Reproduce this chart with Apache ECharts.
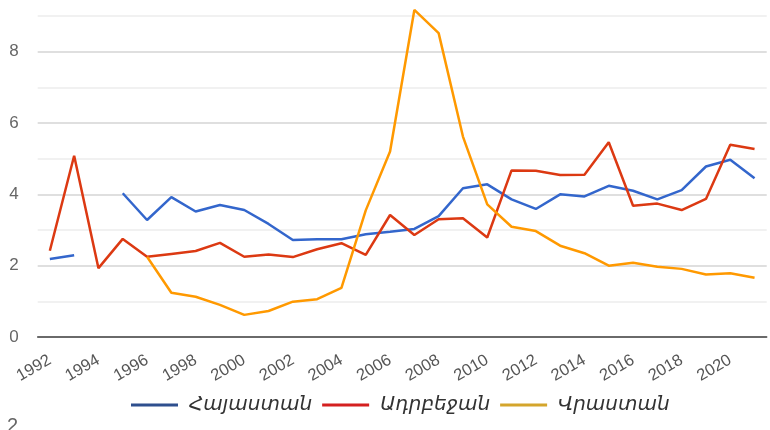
<!DOCTYPE html>
<html>
<head>
<meta charset="utf-8">
<script src="https://cdn.jsdelivr.net/npm/echarts@6/dist/echarts.min.js"></script>
<style>html,body{margin:0;padding:0;background:#fff;overflow:hidden;}#c{width:770px;height:430px;}</style>
</head>
<body>
<div id="c"></div>
<script>
const years = ['1992','1993','1994','1995','1996','1997','1998','1999','2000','2001','2002','2003','2004','2005','2006','2007','2008','2009','2010','2011','2012','2013','2014','2015','2016','2017','2018','2019','2020','2021'];
const seriesNames = ['Հայաստան','Ադրբեջան','Վրաստան'];
const armenia = [2.19,2.29,null,4.03,3.28,3.92,3.52,3.70,3.56,3.17,2.72,2.74,2.74,2.88,2.95,3.03,3.39,4.17,4.28,3.86,3.59,4.00,3.94,4.24,4.10,3.86,4.12,4.78,4.97,4.45];
const azerbaijan = [2.42,5.08,1.93,2.75,2.25,2.33,2.41,2.64,2.25,2.31,2.24,2.46,2.63,2.30,3.42,2.86,3.30,3.33,2.79,4.67,4.66,4.54,4.55,5.46,3.68,3.74,3.56,3.87,5.39,5.27];
const georgia = [null,null,null,null,2.25,1.24,1.13,0.90,0.62,0.73,0.99,1.06,1.38,3.55,5.20,9.17,8.52,5.62,3.72,3.09,2.97,2.56,2.35,2.00,2.08,1.97,1.91,1.75,1.79,1.66];
const yTicks = [0,2,4,6,8];

const lineColors = ['#3366cc','#dc3912','#ff9900'];
const legendColors = ['#2e4f8e','#d42020','#d4a52c'];
const dataSets = [armenia, azerbaijan, georgia];

const chart = echarts.init(document.getElementById('c'));
chart.setOption({
  animation: false,
  grid: {left: 37.7, right: 3.3, top: 16, bottom: 93, containLabel: false},
  xAxis: {
    type: 'category',
    data: years,
    boundaryGap: true,
    axisLine: {lineStyle: {color: '#444', width: 1.5}},
    axisTick: {show: false},
    axisLabel: {interval: 1, rotate: 30, margin: 22, fontSize: 16.5, color: '#555', fontFamily: 'Liberation Sans, Arial, sans-serif'}
  },
  yAxis: {
    type: 'value',
    min: 0, max: 9, interval: 1,
    axisLine: {show: false},
    axisTick: {show: false},
    axisLabel: {
      margin: 19, fontSize: 17, color: '#666', fontFamily: 'Liberation Sans, Arial, sans-serif',
      formatter: v => yTicks.indexOf(v) >= 0 ? String(v) : ''
    },
    splitLine: {lineStyle: {color: ['#d4d4d4', '#ececec'], width: 1.5}}
  },
  legend: {
    left: 131, top: 395, padding: 0,
    itemWidth: 47, itemHeight: 3, itemGap: 10,
    icon: 'rect',
    textStyle: {fontSize: 20, fontStyle: 'italic', color: '#333', fontFamily: 'DejaVu Sans, sans-serif', padding: [0,0,0,6]},
    data: seriesNames.map((n, i) => ({name: n, itemStyle: {color: legendColors[i]}}))
  },
  graphic: [{type: 'text', left: 7, top: 416, style: {text: '2', fontSize: 20, fill: '#666', fontFamily: 'Liberation Sans, Arial, sans-serif'}}],
  series: dataSets.map((d, i) => ({
    name: seriesNames[i],
    type: 'line',
    data: d,
    showSymbol: false,
    symbol: 'none',
    connectNulls: false,
    clip: false,
    color: lineColors[i],
    lineStyle: {color: lineColors[i], width: 2.5}
  }))
});
</script>
</body>
</html>
